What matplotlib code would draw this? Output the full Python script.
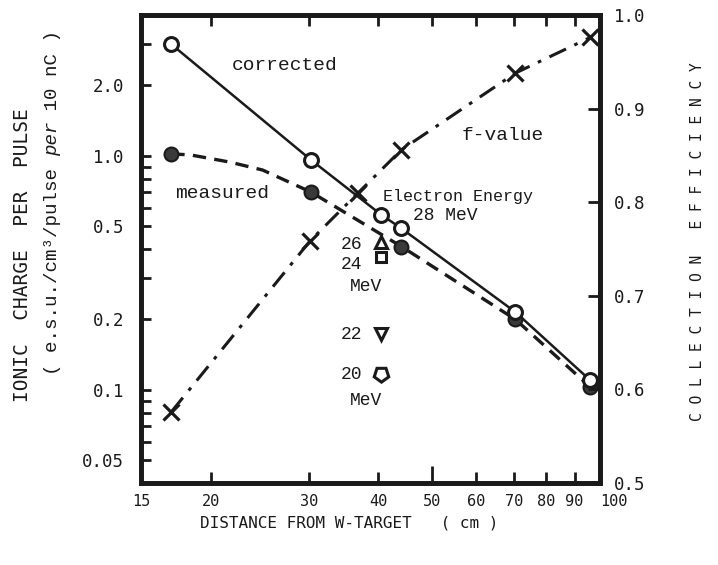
import numpy as np
import matplotlib.pyplot as plt
from matplotlib.ticker import FixedLocator, NullFormatter, LogLocator

# distances (cm) and values
corr_x = [17, 30.3, 40.5, 44, 70.5, 96]
corrected = [3.0, 0.96, 0.56, 0.49, 0.215, 0.11]

meas_x = [17, 30.3, 44, 70.5, 96]
measured = [1.02, 0.70, 0.41, 0.20, 0.103]
# dashed curve trace (curve bends flat near 17 cm)
meas_line_x = [17, 18.4, 21.7, 24.8, 30.3, 44, 70.5, 96]
meas_line_y = [1.02, 1.01, 0.94, 0.87, 0.70, 0.41, 0.20, 0.103]

f_x = [17, 30.2, 36.8, 44, 70.5, 96]
f_value = [0.576, 0.759, 0.810, 0.856, 0.938, 0.976]

energy_x = 40.5
e26, e24, e22, e20 = 0.43, 0.37, 0.173, 0.117

x_ticks = [15, 20, 30, 40, 50, 60, 70, 80, 90, 100]
y_ticks = [0.05, 0.1, 0.2, 0.5, 1.0, 2.0]
y2_ticks = [0.5, 0.6, 0.7, 0.8, 0.9, 1.0]

INK = "#1a1a1a"
MONO = "DejaVu Sans Mono"
TYPE = "Liberation Mono"

fig = plt.figure(figsize=(7.18, 5.65), dpi=100)
ax = fig.add_axes([0.1964, 0.1451, 0.6393, 0.8283])
ax2 = ax.twinx()

ax.set_xscale("log")
ax.set_yscale("log")
ax.set_xlim(15, 100)
ax.set_ylim(0.04, 4.0)
ax2.set_ylim(0.5, 1.0)

# corrected: open circles, solid line
ax.plot(corr_x, corrected, "-", color=INK, lw=1.8, zorder=2)
ax.plot(corr_x, corrected, "o", ms=10, mfc="white", mec=INK, mew=2.2, zorder=4)

# measured: filled circles, dashed line
ax.plot(meas_line_x, meas_line_y, color=INK, lw=2.4, dashes=(4, 2.5), zorder=2)
ax.plot(meas_x, measured, "o", ms=10, mfc="#3a3a3a", mec=INK, mew=1.5, zorder=3)

# f-value on the right axis
ax2.plot(f_x, f_value, color=INK, lw=2.2, dashes=(6, 3, 1.2, 3), zorder=2)
ax2.plot(f_x, f_value, "x", ms=11, mec=INK, mew=2.3, zorder=4)

# other electron energies at 40 cm
mk = dict(ms=9, mfc="white", mec=INK, mew=2.2, ls="none", zorder=4)
ax.plot([energy_x], [e26], marker="^", **mk)
ax.plot([energy_x], [e24], marker="s", **dict(mk, ms=7.5))
ax.plot([energy_x], [e22], marker="v", **mk)
ax.plot([energy_x], [e20], marker=(5, 0, 180), **dict(mk, ms=11))

# ticks
ax.xaxis.set_major_locator(FixedLocator(x_ticks))
ax.xaxis.set_minor_locator(FixedLocator([]))
ax.set_xticklabels([str(v) for v in x_ticks])
ax.yaxis.set_major_locator(FixedLocator(y_ticks))
ax.yaxis.set_minor_locator(LogLocator(base=10, subs=np.arange(1, 10)))
ax.yaxis.set_minor_formatter(NullFormatter())
ax.set_yticklabels(["0.05", "0.1", "0.2", "0.5", "1.0", "2.0"])
ax2.yaxis.set_major_locator(FixedLocator(y2_ticks))
ax2.set_yticklabels([f"{v:.1f}" for v in y2_ticks])

ax.tick_params(axis="x", which="both", direction="in", length=8, width=2,
               top=True, bottom=True, pad=8, labelsize=11, colors=INK)
ax.tick_params(axis="y", which="both", direction="in", length=7, width=2,
               left=True, right=False, pad=12, labelsize=12.5, colors=INK)
ax2.tick_params(axis="y", direction="in", length=9, width=2, pad=10,
                labelsize=12.5, colors=INK)
for a in (ax, ax2):
    for lab in a.get_xticklabels() + a.get_yticklabels():
        lab.set_family(MONO)
    for s in a.spines.values():
        s.set_linewidth(3.4)
        s.set_color(INK)
ax.get_xticklabels()[-1].set_horizontalalignment("left")
# the 50 cm tick is drawn longer
t50 = ax.xaxis.get_major_ticks()[x_ticks.index(50)]
t50.tick1line.set_markersize(12)

# labels in the plot
tk = dict(family=TYPE, color=INK)
ax.text(21.8, 2.33, "corrected", fontsize=14, **tk)
ax.text(17.3, 0.66, "measured", fontsize=14, **tk)
ax.text(56.5, 1.17, "f-value", fontsize=14, **tk)
ax.text(40.8, 0.64, "Electron Energy", fontsize=12, **tk)
ax.text(46.2, 0.53, "28 MeV", fontsize=13, **tk)
ax.text(34.2, 0.40, "26", fontsize=13, **tk)
ax.text(34.2, 0.33, "24", fontsize=13, **tk)
ax.text(35.6, 0.265, "MeV", fontsize=13, **tk)
ax.text(34.2, 0.165, "22", fontsize=13, **tk)
ax.text(34.2, 0.111, "20", fontsize=13, **tk)
ax.text(35.6, 0.086, "MeV", fontsize=13, **tk)

# axis titles
fig.text(0.031, 0.549, "IONIC  CHARGE  PER  PULSE", rotation=90, ha="center",
         va="center", family=MONO, fontsize=14, color=INK)

# second left title: monospace pieces so "per" can be italic
ut_size = 13.8
cw = ut_size * 0.6 / 72 * 100 / 565      # one character, in figure height
y0 = 1 - 375 / 565
parts = [("( e.s.u./cm³/pulse ", "normal"), ("per", "italic"), (" 10 nC )", "normal")]
for txt, style in parts:
    fig.text(0.073, y0, txt, rotation=90, rotation_mode="anchor", ha="left",
             va="center", family=TYPE, style=style, fontsize=ut_size, color=INK)
    y0 += len(txt) * cw

fig.text(0.971, 0.572, " ".join("COLLECTION") + "   " + " ".join("EFFICIENCY"),
         rotation=90, ha="center", va="center", family=MONO, fontsize=10.5,
         color=INK)
fig.text(0.486, 0.074, "DISTANCE FROM W-TARGET   ( cm )", ha="center",
         va="center", family=MONO, fontsize=11.5, color=INK)

fig.savefig("out.png", dpi=100, facecolor="white")
